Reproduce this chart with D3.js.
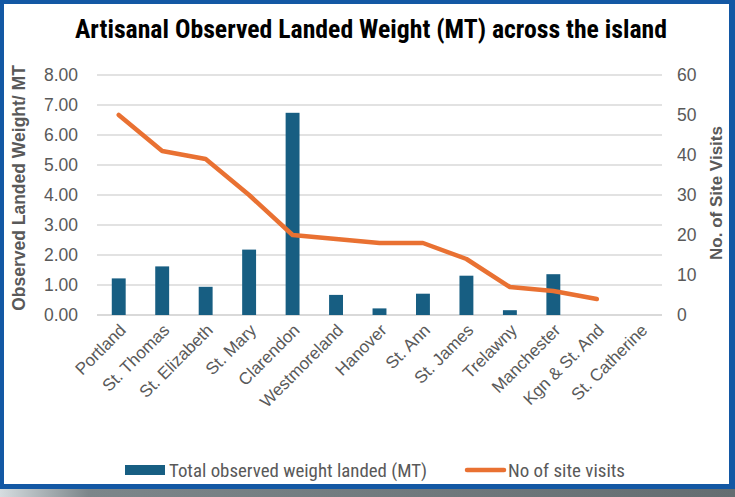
<!DOCTYPE html>
<html>
<head>
<meta charset="utf-8">
<script src="https://cdn.jsdelivr.net/npm/d3@7"></script>
<style>
  html, body { margin: 0; padding: 0; background: #fff; }
  svg { display: block; }
</style>
</head>
<body>
<svg id="chart"></svg>
<script>
// values
const parishes = ['Portland', 'St. Thomas', 'St. Elizabeth', 'St. Mary', 'Clarendon', 'Westmoreland',
  'Hanover', 'St. Ann', 'St. James', 'Trelawny', 'Manchester', 'Kgn & St. And', 'St. Catherine'];
const weightLanded = [1.22, 1.62, 0.94, 2.18, 6.74, 0.67, 0.22, 0.71, 1.31, 0.16, 1.36, 0, 0];
const siteVisits = [50, 41, 39, 30, 20, 19, 18, 18, 14, 7, 6, 4, null];
const leftTicks = [0, 1, 2, 3, 4, 5, 6, 7, 8];
const rightTicks = [0, 10, 20, 30, 40, 50, 60];
const legendLabels = ['Total observed weight landed (MT)', 'No of site visits'];

const W = 735, H = 497;
const barColor = '#175e82';
const lineColor = '#e97132';
const textGray = '#595959';
const narrow = '"Liberation Sans Narrow", "Arial Narrow", "Roboto Condensed", "Liberation Sans", sans-serif';
const sans = '"Liberation Sans", Arial, sans-serif';

const svg = d3.select('#chart').attr('width', W).attr('height', H);

// frame + shadow strip
const grad = svg.append('defs').append('linearGradient').attr('id', 'shadow');
grad.append('stop').attr('offset', '0%').attr('stop-color', '#d6dde0');
grad.append('stop').attr('offset', '12%').attr('stop-color', '#7c868a');
grad.append('stop').attr('offset', '100%').attr('stop-color', '#646d71');
svg.append('rect').attr('x', 0).attr('y', 486).attr('width', W).attr('height', H - 486).attr('fill', 'url(#shadow)');
svg.append('rect').attr('x', 0).attr('y', 0).attr('width', W).attr('height', 489).attr('fill', '#1358a4');
svg.append('rect').attr('x', 4).attr('y', 4).attr('width', 725).attr('height', 480).attr('fill', '#fff');

const x = d3.scaleBand().domain(parishes).range([97, 662]).padding(0);
const yL = d3.scaleLinear().domain([0, 8]).range([315, 75]);
const yR = d3.scaleLinear().domain([0, 60]).range([315, 75]);
const barW = x.bandwidth() * 0.32;

// gridlines
svg.append('g').selectAll('line')
  .data(leftTicks)
  .enter().append('line')
  .attr('x1', 97).attr('x2', 662)
  .attr('y1', d => yL(d)).attr('y2', d => yL(d))
  .attr('stroke', '#d9d9d9')
  .attr('stroke-width', d => (d === 0 ? 2 : 1.5));

// title
svg.append('text')
  .attr('x', 371).attr('y', 38)
  .attr('text-anchor', 'middle')
  .attr('font-family', narrow)
  .attr('font-weight', 'bold')
  .attr('font-size', 25)
  .attr('fill', '#000')
  .attr('textLength', 592)
  .attr('lengthAdjust', 'spacingAndGlyphs')
  .text('Artisanal Observed Landed Weight (MT) across the island');

// axes
const leftAxis = svg.append('g')
  .attr('transform', 'translate(97,0)')
  .call(d3.axisLeft(yL).tickValues(leftTicks).tickFormat(d3.format('.2f')).tickSize(0).tickPadding(19));
const rightAxis = svg.append('g')
  .attr('transform', 'translate(662,0)')
  .call(d3.axisRight(yR).tickValues(rightTicks).tickSize(0).tickPadding(15));
[leftAxis, rightAxis].forEach(a => {
  a.select('.domain').remove();
  a.selectAll('text')
    .attr('font-family', sans)
    .attr('font-size', 17.5)
    .attr('fill', textGray);
});

// category labels
svg.append('g').selectAll('text')
  .data(parishes)
  .enter().append('text')
  .attr('transform', d => `translate(${x(d) + x.bandwidth() / 2 + 4}, 327) rotate(-45)`)
  .attr('text-anchor', 'end')
  .attr('dy', '0.35em')
  .attr('font-family', sans)
  .attr('font-size', 17)
  .attr('fill', textGray)
  .text(d => d);

// axis titles
svg.append('text')
  .attr('transform', 'translate(25,188) rotate(-90)')
  .attr('text-anchor', 'middle')
  .attr('font-family', sans)
  .attr('font-weight', 'bold')
  .attr('font-size', 17.5)
  .attr('fill', textGray)
  .text('Observed Landed Weight/ MT');
svg.append('text')
  .attr('transform', 'translate(722,193) rotate(-90)')
  .attr('text-anchor', 'middle')
  .attr('font-family', sans)
  .attr('font-weight', 'bold')
  .attr('font-size', 17)
  .attr('fill', textGray)
  .text('No. of Site Visits');

// bars
svg.append('g').selectAll('rect')
  .data(parishes.map((p, i) => ({ p, v: weightLanded[i] })).filter(d => d.v > 0))
  .enter().append('rect')
  .attr('x', d => x(d.p) + (x.bandwidth() - barW) / 2)
  .attr('y', d => yL(d.v))
  .attr('width', barW)
  .attr('height', d => yL(0) - yL(d.v))
  .attr('fill', barColor);

// site visits line
const line = d3.line()
  .defined(d => d.v != null)
  .x(d => x(d.p) + x.bandwidth() / 2)
  .y(d => yR(d.v));
svg.append('path')
  .datum(parishes.map((p, i) => ({ p, v: siteVisits[i] })))
  .attr('d', line)
  .attr('fill', 'none')
  .attr('stroke', lineColor)
  .attr('stroke-width', 4.5)
  .attr('stroke-linejoin', 'round')
  .attr('stroke-linecap', 'round');

// legend
const legend = svg.append('g');
legend.append('rect')
  .attr('x', 125).attr('y', 465).attr('width', 40).attr('height', 10)
  .attr('fill', barColor);
legend.append('line')
  .attr('x1', 467).attr('x2', 504).attr('y1', 470).attr('y2', 470)
  .attr('stroke', lineColor).attr('stroke-width', 4.5).attr('stroke-linecap', 'round');
legend.selectAll('text')
  .data(legendLabels)
  .enter().append('text')
  .attr('x', (d, i) => (i === 0 ? 169 : 508))
  .attr('y', 477)
  .attr('font-family', narrow)
  .attr('font-size', 19)
  .attr('fill', textGray)
  .attr('textLength', (d, i) => (i === 0 ? 258 : 117))
  .attr('lengthAdjust', 'spacingAndGlyphs')
  .text(d => d);
</script>
</body>
</html>
